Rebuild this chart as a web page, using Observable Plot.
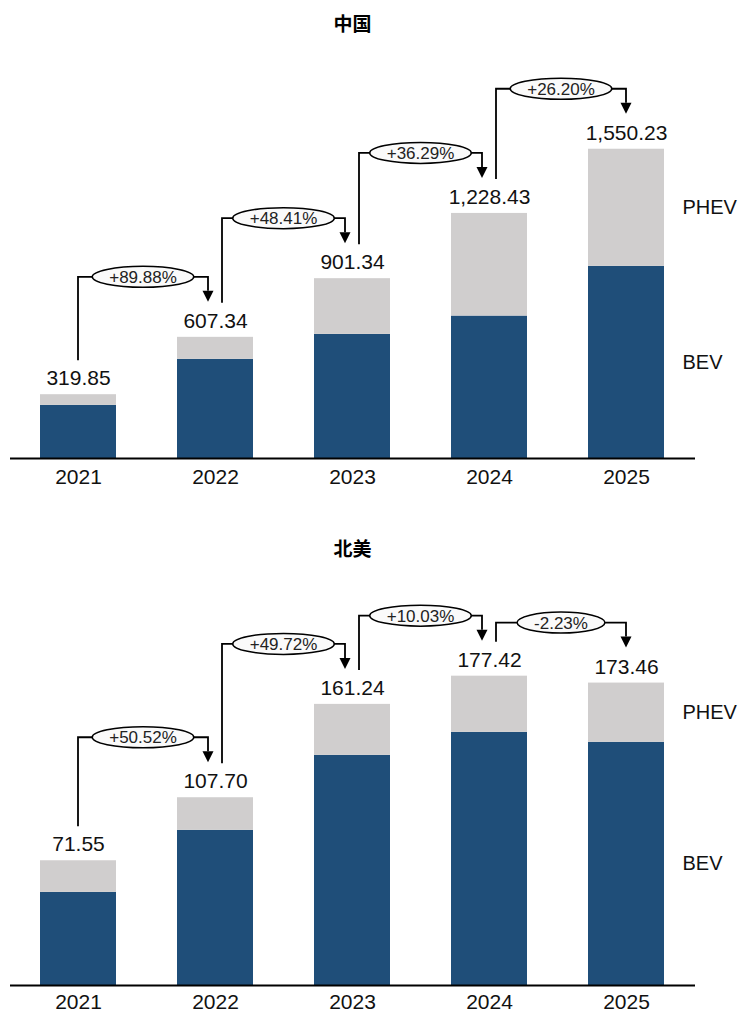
<!DOCTYPE html>
<html>
<head>
<meta charset="utf-8">
<script src="https://cdn.jsdelivr.net/npm/d3@7"></script>
<script src="https://cdn.jsdelivr.net/npm/@observablehq/plot@0.6"></script>
<style>
  html, body { margin: 0; padding: 0; background: #fff; }
  #root { position: relative; width: 740px; height: 1012px; font-family: "Liberation Sans", Arial, sans-serif; }
  .title { position: absolute; left: 10px; width: 685px; text-align: center; font-family: "Noto Sans CJK SC", sans-serif; font-weight: 700; font-size: 19px; line-height: 24px; color: #000; }
  .panel { position: absolute; left: 0; width: 740px; }
  .panel svg { overflow: visible; }
</style>
</head>
<body>
<div id="root">
  <div class="title" id="t1" style="top:11px"></div>
  <div class="panel" id="c1" style="top:40px"></div>
  <div class="title" id="t2" style="top:536px"></div>
  <div class="panel" id="c2" style="top:564px"></div>
</div>
<script>
// ---- data ----
const years = ["2021", "2022", "2023", "2024", "2025"];
const seriesNames = ["BEV", "PHEV"];
const titles = ["中国", "北美"];

const chinaTotal = [319.85, 607.34, 901.34, 1228.43, 1550.23];
const chinaBEV   = [266, 497, 622, 714, 963];
const chinaPHEV  = [53.85, 110.34, 279.34, 514.43, 587.23];
const chinaGrowth = ["+89.88%", "+48.41%", "+36.29%", "+26.20%"];

const naTotal = [71.55, 107.70, 161.24, 177.42, 173.46];
const naBEV   = [53.4, 89.0, 132.0, 145.2, 139.5];
const naPHEV  = [18.15, 18.70, 29.24, 32.22, 33.96];
const naGrowth = ["+50.52%", "+49.72%", "+10.03%", "-2.23%"];

const colors = ["#1f4e79", "#d0cece"];
const fmt = d3.format(",.2f");

// approximate Arial widths (em) for ellipse sizing
const cw = {"+":0.584, "-":0.333, ".":0.278, "%":0.889};
function textW(s, fs) { let w = 0; for (const c of s) w += (cw[c] ?? 0.556); return w * fs; }

function connectors(totals, growth) {
  return (index, scales) => {
    const x = scales.x, y = scales.y;
    const bw = x.bandwidth ? x.bandwidth() : 0;
    const cx = yr => x(yr) + bw / 2;
    const g = d3.create("svg:g");
    growth.forEach((label, i) => {
      const x0 = cx(years[i]) + (i === 0 ? 0 : 7);
      const x1 = cx(years[i + 1]) - (i + 1 < years.length - 1 ? 7 : 0);
      const yStart = y(totals[i]) - 34;
      const level = y(totals[i + 1]) - 60;
      const tip = level + 25;
      const head = 11;
      g.append("path")
        .attr("d", `M${x0},${yStart}V${level}H${x1}V${tip - head}`)
        .attr("fill", "none").attr("stroke", "#000").attr("stroke-width", 1.8);
      g.append("path")
        .attr("d", `M${x1 - 5.5},${tip - head}L${x1 + 5.5},${tip - head}L${x1},${tip}Z`)
        .attr("fill", "#000");
      const mx = (x0 + x1) / 2;
      const fs = 17;
      g.append("ellipse")
        .attr("cx", mx).attr("cy", level)
        .attr("rx", textW(label, fs) / 2 + 17).attr("ry", 10.5)
        .attr("fill", "#fafafa").attr("stroke", "#000").attr("stroke-width", 1.5);
      g.append("text")
        .attr("x", mx).attr("y", level).attr("dy", "0.36em")
        .attr("text-anchor", "middle")
        .attr("font-size", fs)
        .attr("font-family", "Liberation Sans, Arial, sans-serif")
        .attr("fill", "#222")
        .text(label);
    });
    return g.node();
  };
}

function makeChart(bev, phev, totals, growth, yMax, height, marginTop, marginBottom, tickPadding) {
  const rows = [];
  years.forEach((yr, i) => rows.push({year: yr, type: seriesNames[0], value: bev[i]}));
  years.forEach((yr, i) => rows.push({year: yr, type: seriesNames[1], value: phev[i]}));
  const totRows = years.map((yr, i) => ({year: yr, total: totals[i]}));
  return Plot.plot({
    width: 740,
    height,
    marginLeft: 10,
    marginRight: 45,
    marginTop,
    marginBottom,
    style: {fontFamily: "Liberation Sans, Arial, sans-serif", fontSize: "21px", color: "#111", background: "#fff", overflow: "visible"},
    x: {domain: years, paddingInner: 0.445, paddingOuter: 0.2225, label: null, tickSize: 0, tickPadding},
    y: {domain: [0, yMax], axis: null},
    color: {domain: seriesNames, range: colors},
    marks: [
      Plot.barY(rows, {x: "year", y: "value", fill: "type"}),
      Plot.ruleY([0], {stroke: "#000", strokeWidth: 2}),
      Plot.text(totRows, {x: "year", y: "total", text: d => fmt(d.total), dy: -16, fontSize: 21, fill: "#111"}),
      Plot.text(rows, Plot.stackY({filter: d => d.year === years[years.length - 1], x: "year", y: "value", z: "type", text: "type", dx: 56, textAnchor: "start", fontSize: 20, fill: "#111"})),
      connectors(totals, growth)
    ]
  });
}

document.getElementById("t1").textContent = titles[0];
document.getElementById("t2").textContent = titles[1];
document.getElementById("c1").append(makeChart(chinaBEV, chinaPHEV, chinaTotal, chinaGrowth, 2000, 455, 19, 37, 11));
document.getElementById("c2").append(makeChart(naBEV, naPHEV, naTotal, naGrowth, 230, 448, 20, 27, 9));
</script>
</body>
</html>
